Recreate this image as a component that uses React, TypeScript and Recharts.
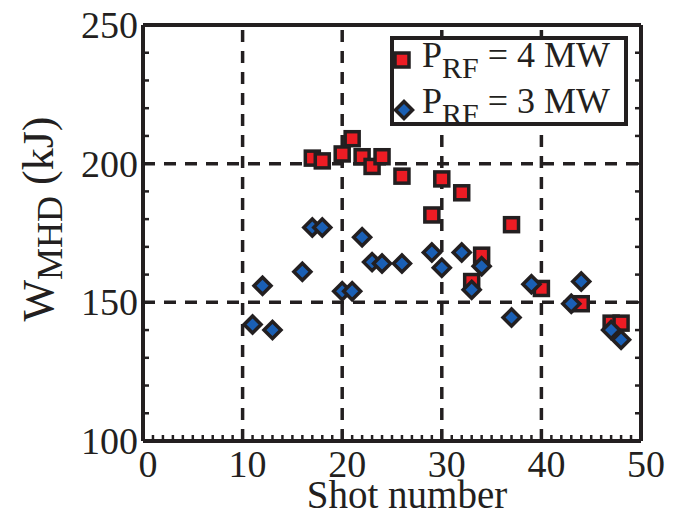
import { ScatterChart, Scatter, XAxis, YAxis, ReferenceLine, Legend, Label } from 'recharts';

// P_RF = 4 MW shots
const shots4MW = [17, 18, 20, 21, 22, 23, 24, 26, 29, 30, 32, 33, 34, 37, 40, 44, 47, 48];
const wmhd4MW = [202, 201, 203.5, 209, 202.5, 199, 202.5, 195.5, 181.5, 194.5, 189.5, 157.5, 167, 178, 155, 149.5, 142.5, 142.5];

// P_RF = 3 MW shots
const shots3MW = [11, 12, 13, 16, 17, 18, 20, 21, 22, 23, 24, 26, 29, 30, 32, 33, 34, 37, 39, 43, 44, 47, 48];
const wmhd3MW = [142, 156, 140, 161, 177, 177, 154, 154, 173.5, 164.5, 164, 164, 168, 162.5, 168, 154.5, 163, 144.5, 156.5, 149.5, 157.5, 140, 136.5];

const xLabels = [0, 10, 20, 30, 40, 50];
const yLabels = [100, 150, 200, 250];
const xGrid = [10, 20, 30, 40];
const yGrid = [150, 200];
const xMinor = Array.from({ length: 51 }, (_, i) => i);
const yMinor = Array.from({ length: 16 }, (_, i) => 100 + i * 10);

const data4 = shots4MW.map((x, i) => ({ x, y: wmhd4MW[i] }));
const data3 = shots3MW.map((x, i) => ({ x, y: wmhd3MW[i] }));

const INK = '#231f20';
const RED = '#ed1c24';
const BLUE = '#1a5fb4';
const FONT = '"Liberation Serif", "Times New Roman", serif';

const Square = ({ cx, cy }: any) => (
    <rect x={cx - 7} y={cy - 7} width={14} height={14} fill={RED} stroke={INK} strokeWidth={3.5} />
);

const Diamond = ({ cx, cy }: any) => (
    <path
        d={`M${cx},${cy - 8.5}L${cx + 8.5},${cy}L${cx},${cy + 8.5}L${cx - 8.5},${cy}Z`}
        fill={BLUE}
        stroke={INK}
        strokeWidth={3.5}
        strokeLinejoin="miter"
    />
);

// inward tick marks, labels only on the bottom / left axes
const XTick = ({ x, y, payload, side }: any) => {
    const major = xLabels.includes(payload.value);
    const len = major ? 10 : 6;
    const dir = side === 'bottom' ? -1 : 1;
    return (
        <g>
            <line x1={x} x2={x} y1={y} y2={y + dir * len} stroke={INK} strokeWidth={2.5} />
            {side === 'bottom' && major && (
                <text x={x + 5} y={y + 36} textAnchor="middle" fontSize={38} fontFamily={FONT} fill={INK}>
                    {payload.value}
                </text>
            )}
        </g>
    );
};

const YTick = ({ x, y, payload, side }: any) => {
    const major = yLabels.includes(payload.value);
    const len = major ? 10 : 6;
    const dir = side === 'left' ? 1 : -1;
    return (
        <g>
            <line x1={x} x2={x + dir * len} y1={y} y2={y} stroke={INK} strokeWidth={2.5} />
            {side === 'left' && major && (
                <text x={x - 5} y={y + 13} textAnchor="end" fontSize={38} fontFamily={FONT} fill={INK}>
                    {payload.value}
                </text>
            )}
        </g>
    );
};

const LegendBox = () => (
    <svg width={238} height={90} style={{ display: 'block' }}>
        <defs>
            <clipPath id="legend-clip">
                <rect x={0} y={0} width={238} height={88} />
            </clipPath>
        </defs>
        <rect x={2} y={2} width={234} height={86} fill="#fff" />
        <g clipPath="url(#legend-clip)" fontFamily={FONT} fill={INK}>
            <Square cx={12} cy={24} />
            <text x={32} y={31} fontSize={36}>
                P<tspan fontSize={30} dy={11}>RF</tspan>
                <tspan dy={-11}> = 4 MW</tspan>
            </text>
            <Diamond cx={14} cy={74} />
            <text x={32} y={77} fontSize={36}>
                P<tspan fontSize={30} dy={11}>RF</tspan>
                <tspan dy={-11}> = 3 MW</tspan>
            </text>
        </g>
        <rect x={2} y={2} width={234} height={86} fill="none" stroke={INK} strokeWidth={4} />
    </svg>
);

const axisStyle = { stroke: INK, strokeWidth: 4 };

export default function App() {
    return (
        <div style={{ position: 'absolute', left: 0, top: 0, background: '#fff' }}>
            <ScatterChart width={681} height={515} margin={{ top: 24, right: 39, bottom: 73, left: 142 }}>
                <XAxis
                    type="number"
                    dataKey="x"
                    domain={[0, 50]}
                    ticks={xMinor}
                    interval={0}
                    height={1}
                    tickSize={0}
                    tickMargin={0}
                    tickLine={false}
                    axisLine={axisStyle}
                    tick={<XTick side="bottom" />}
                    allowDataOverflow
                >
                    <Label
                        content={() => (
                            <text x={407} y={508} textAnchor="middle" fontSize={39} fontFamily={FONT} fill={INK}>
                                Shot number
                            </text>
                        )}
                    />
                </XAxis>
                <XAxis
                    xAxisId="top"
                    orientation="top"
                    type="number"
                    domain={[0, 50]}
                    ticks={xMinor}
                    interval={0}
                    height={1}
                    tickSize={0}
                    tickMargin={0}
                    tickLine={false}
                    axisLine={axisStyle}
                    tick={<XTick side="top" />}
                    allowDataOverflow
                />
                <YAxis
                    type="number"
                    dataKey="y"
                    domain={[100, 250]}
                    ticks={yMinor}
                    interval={0}
                    width={1}
                    tickSize={0}
                    tickMargin={0}
                    tickLine={false}
                    axisLine={axisStyle}
                    tick={<YTick side="left" />}
                    allowDataOverflow
                >
                    <Label
                        content={() => (
                            <text
                                x={53}
                                y={219}
                                transform="rotate(-90, 53, 219)"
                                textAnchor="middle"
                                fontSize={44}
                                fontFamily={FONT}
                                fill={INK}
                            >
                                W<tspan fontSize={36} dy={9}>MHD</tspan>
                                <tspan dy={-9}> (kJ)</tspan>
                            </text>
                        )}
                    />
                </YAxis>
                <YAxis
                    yAxisId="right"
                    orientation="right"
                    type="number"
                    domain={[100, 250]}
                    ticks={yMinor}
                    interval={0}
                    width={1}
                    tickSize={0}
                    tickMargin={0}
                    tickLine={false}
                    axisLine={axisStyle}
                    tick={<YTick side="right" />}
                    allowDataOverflow
                />
                {xGrid.map((v) => (
                    <ReferenceLine key={`x${v}`} x={v} stroke={INK} strokeWidth={3.5} strokeDasharray="12 9" />
                ))}
                {yGrid.map((v) => (
                    <ReferenceLine key={`y${v}`} y={v} stroke={INK} strokeWidth={3.5} strokeDasharray="12 9" />
                ))}
                <Legend
                    layout="vertical"
                    align="center"
                    verticalAlign="middle"
                    wrapperStyle={{ position: 'absolute', left: 390, top: 36, width: 238, height: 90 }}
                    content={() => <LegendBox />}
                />
                <Scatter name="P_RF = 4 MW" data={data4} shape={<Square />} isAnimationActive={false} />
                <Scatter name="P_RF = 3 MW" data={data3} shape={<Diamond />} isAnimationActive={false} />
            </ScatterChart>
        </div>
    );
}
